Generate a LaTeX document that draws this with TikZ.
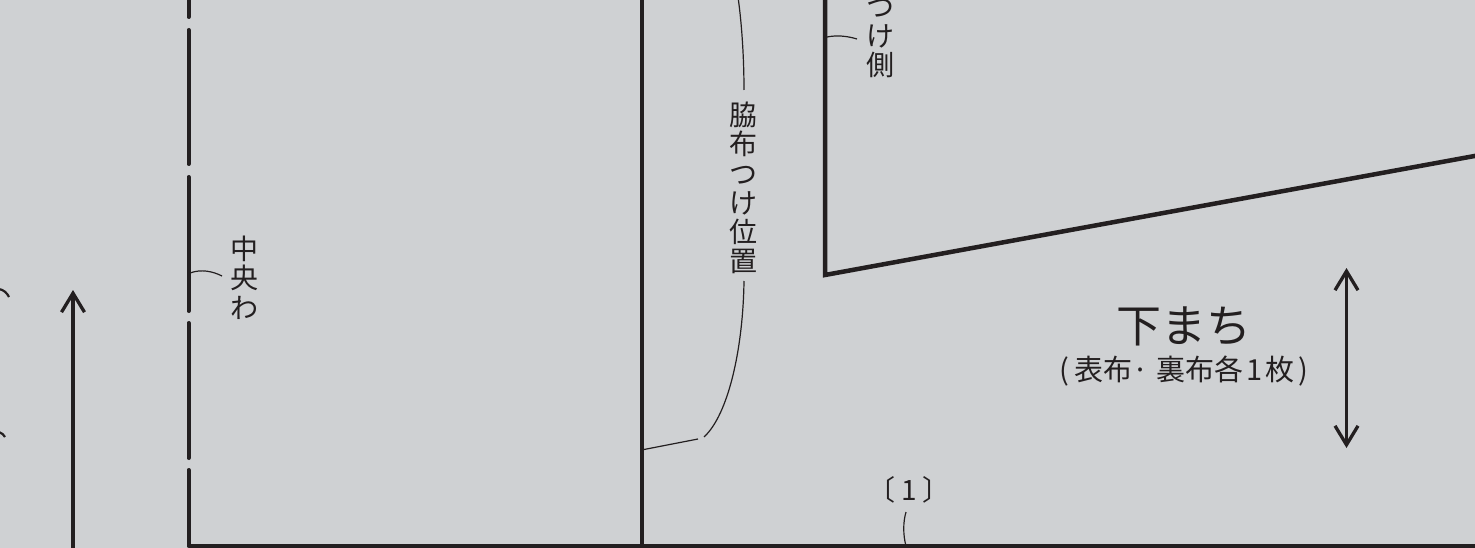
\documentclass[tikz,border=0pt]{standalone}
\usepackage{fontspec}
\usetikzlibrary{arrows.meta}
\newfontfamily\jpfont{Noto Sans CJK JP}
\definecolor{inkc}{HTML}{231F20}
\definecolor{paperc}{HTML}{CFD1D3}
\tikzset{
  outline/.style={draw=inkc,line width=4.5pt,line join=miter},
  foldline/.style={draw=inkc,line width=4pt,line cap=round},
  leader/.style={draw=inkc,line width=1.2pt},
  grain/.style={draw=inkc,line width=3.3pt},
  tate/.style={inner sep=0pt,align=center,text=inkc,font=\jpfont\fontsize{28}{29.2}\selectfont},
  yoko/.style={inner sep=0pt,text=inkc,font=\jpfont\fontsize{28}{30}\selectfont},
  subfont/.style={inner sep=0pt,text=inkc,font=\jpfont\fontsize{29}{30}\selectfont},
  titlefont/.style={inner sep=0pt,text=inkc,font=\jpfont\fontsize{45}{48}\selectfont}
}
\begin{document}
\begin{tikzpicture}[x=1pt,y=-1pt]
\useasboundingbox (0,0) rectangle (1475,548);
\clip (0,0) rectangle (1475,548);
\fill[paperc] (0,0) rectangle (1475,548);
% coordinates
\coordinate (bl) at (188.5,546);
\coordinate (br) at (1480,546);
\coordinate (mt) at (642,-5);
\coordinate (mb) at (642,546);
\coordinate (pt) at (825,-5);
\coordinate (pc) at (825,275);
\coordinate (pr) at (1480,155);
% outlines
\draw[outline] (bl) -- (br);
\draw[outline] (mt) -- (mb);
\draw[outline] (pt) -- (pc) -- (pr);
% centre fold
\coordinate (f0) at (188.5,-5);\coordinate (f1) at (188.5,17);
\coordinate (f2) at (188.5,30);\coordinate (f3) at (188.5,164);
\coordinate (f4) at (188.5,177);\coordinate (f5) at (188.5,311);
\coordinate (f6) at (188.5,323);\coordinate (f7) at (188.5,458);
\coordinate (f8) at (188.5,470);
\draw[foldline] (f0) -- (f1);
\draw[foldline] (f2) -- (f3);
\draw[foldline] (f4) -- (f5);
\draw[foldline] (f6) -- (f7);
\draw[foldline] (f8) -- (bl);
% grain arrows
\coordinate (g1a) at (73,552);\coordinate (g1b) at (73,290);
\draw[grain,-{Straight Barb[length=19pt,width=23pt]}] (g1a) -- (g1b);
\coordinate (g2a) at (1346.5,268);\coordinate (g2b) at (1346.5,448);
\draw[grain,{Straight Barb[length=19pt,width=23pt]}-{Straight Barb[length=19pt,width=23pt]}] (g2a) -- (g2b);
% left cut-off leaders
\coordinate (la) at (-1,289);\coordinate (lb) at (9,297);
\draw[draw=inkc,line width=2.2pt] (la) .. controls (4,290) and (7,293) .. (lb);
\coordinate (lc) at (-1,432);\coordinate (ld) at (5,437);
\draw[draw=inkc,line width=2.2pt] (lc) .. controls (2,433) and (4,435) .. (ld);
% labels
\node[tate,anchor=north] (chuo) at (244,236) {中\\央\\わ};
\node[tate,anchor=north] (waki) at (743.5,102) {脇\\布\\つ\\け\\位\\置};
\node[tate,anchor=south] (tsuke) at (880,78) {つ\\け\\側};
\node[yoko] (one) at (909,490) {〔\hspace{6pt}1\hspace{6pt}〕};
\node[titlefont] (shita) at (1184,326) {下まち};
\node[subfont] (omote) at (1184,371) {(\hspace{5pt}表布·\hspace{1pt} 裏布各\hspace{3pt}1\hspace{3pt}枚\hspace{4pt})};
% leaders
\coordinate (c1) at (190,273);\coordinate (c2) at (222,276);
\draw[leader] (c1) .. controls (201,269) and (212,271) .. (c2);
\coordinate (t1) at (827,37);\coordinate (t2) at (857,39);
\draw[leader] (t1) .. controls (837,35) and (847,36) .. (t2);
\coordinate (w0) at (738,-3);\coordinate (w1) at (744,90);
\draw[leader] (w0) .. controls (742,25) and (744,60) .. (w1);
\coordinate (w2) at (744,281);\coordinate (w3) at (704,437);
\draw[leader] (w2) .. controls (743,350) and (728,415) .. (w3);
\coordinate (w4) at (698,439);\coordinate (w5) at (644,449.5);
\draw[leader] (w4) -- (w5);
\coordinate (o1) at (906,512);\coordinate (o2) at (906,546);
\draw[leader] (o1) .. controls (903,522) and (903,535) .. (o2);
\end{tikzpicture}
\end{document}
